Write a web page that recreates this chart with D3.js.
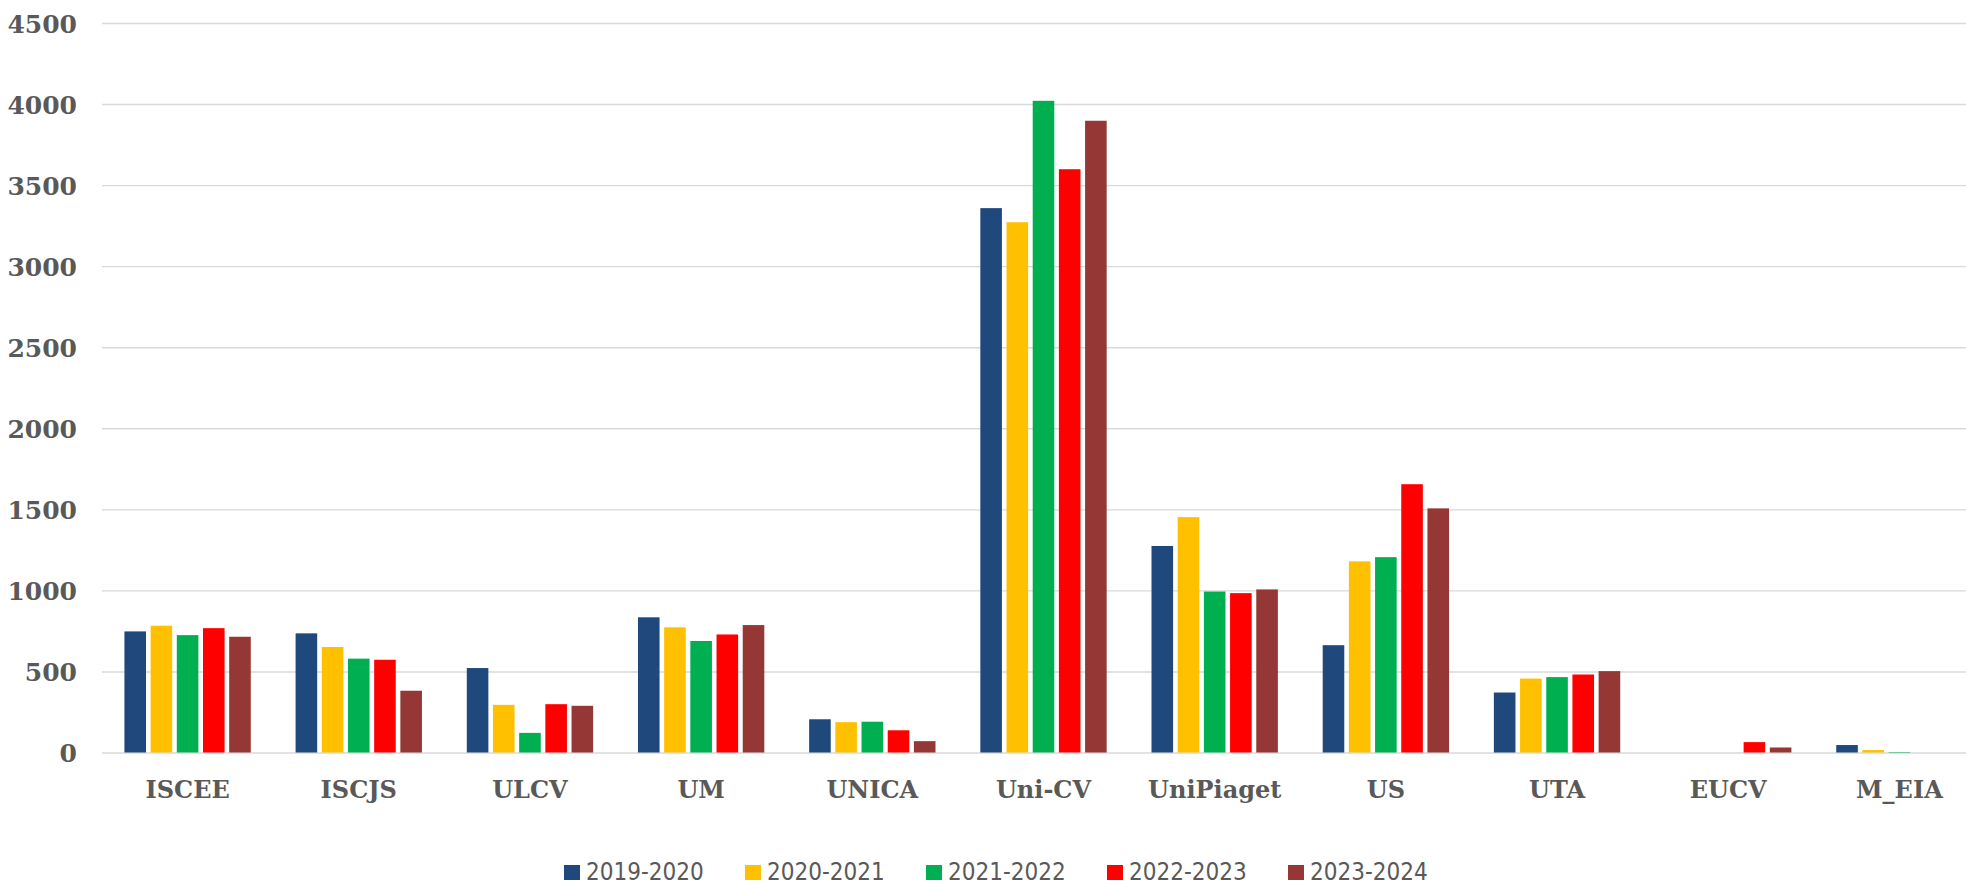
<!doctype html>
<html lang="en">
<head>
<meta charset="utf-8">
<title>Estudantes por instituição</title>
<style>
html, body {
	margin: 0;
	padding: 0;
	background: #fff;
	overflow: hidden;
}
svg {
	display: block;
}
.axis path {
	display: none;
}
.grid line {
	stroke: #d9d9d9;
	stroke-width: 1.4px;
}
.ylab text, .xlab text {
	font-family: "DejaVu Serif", serif;
	font-weight: bold;
	font-size: 25px;
	fill: #595959;
}
.xlab text {
	font-size: 24px;
}
.legend text {
	font-family: "DejaVu Sans Condensed", "DejaVu Sans", sans-serif;
	font-stretch: condensed;
	font-size: 24px;
	fill: #595959;
}
</style>
</head>
<body>
<div id="chart"></div>
<script src="https://cdnjs.cloudflare.com/ajax/libs/d3/7.8.5/d3.min.js"></script>
<script>
// data
var categories = ['ISCEE', 'ISCJS', 'ULCV', 'UM', 'UNICA', 'Uni-CV', 'UniPiaget', 'US', 'UTA', 'EUCV', 'M_EIA'];
var years = ['2019-2020', '2020-2021', '2021-2022', '2022-2023', '2023-2024'];
var colors = ['#1f497d', '#ffc000', '#00b050', '#ff0000', '#953735'];

var y2019 = [747, 735, 521, 834, 205, 3358, 1274, 662, 370, 0, 46];
var y2020 = [782, 651, 294, 772, 187, 3271, 1452, 1179, 456, 0, 15];
var y2021 = [724, 579, 121, 688, 190, 4020, 993, 1205, 465, 0, 3];
var y2022 = [767, 572, 298, 728, 137, 3598, 983, 1655, 481, 64, 0];
var y2023 = [714, 381, 288, 786, 70, 3897, 1006, 1506, 502, 31, 0];

var yTicks = [0, 500, 1000, 1500, 2000, 2500, 3000, 3500, 4000, 4500];

(function () {
	var series = [y2019, y2020, y2021, y2022, y2023];

	// layout
	var W = 1966, H = 885;
	var left = 102, right = 1985; // plot runs past the right edge, as in the picture
	var plotTop = 23, plotBottom = 752.5;

	var svg = d3.select('#chart').append('svg')
		.attr('width', W)
		.attr('height', H);

	var x0 = d3.scaleBand()
		.domain(categories)
		.range([left, right])
		.paddingInner(0.235)
		.paddingOuter(0.1175);

	var x1 = d3.scaleBand()
		.domain(years)
		.range([0, x0.bandwidth()]);

	var y = d3.scaleLinear()
		.domain([0, 4500])
		.range([plotBottom, plotTop]);

	var color = d3.scaleOrdinal().domain(years).range(colors);

	// grid + y labels
	svg.append('g')
		.attr('class', 'axis grid ylab')
		.attr('transform', 'translate(' + left + ',0)')
		.call(d3.axisLeft(y).tickValues(yTicks).tickFormat(d3.format('d'))
			.tickSize(-(right - left)).tickPadding(25))
		.selectAll('text')
		.attr('dy', '0.36em');

	// bars
	var rows = categories.map(function (c, i) {
		return { cat: c, vals: years.map(function (yr, j) { return { year: yr, v: series[j][i] }; }) };
	});

	var gap = 4.6;
	svg.append('g').selectAll('g')
		.data(rows)
		.join('g')
		.attr('transform', function (d) { return 'translate(' + x0(d.cat) + ',0)'; })
		.selectAll('rect')
		.data(function (d) { return d.vals; })
		.join('rect')
		.attr('x', function (d) { return x1(d.year) + gap / 2; })
		.attr('width', x1.bandwidth() - gap)
		.attr('y', function (d) { return y(d.v); })
		.attr('height', function (d) { return plotBottom - y(d.v); })
		.attr('fill', function (d) { return color(d.year); });

	// x labels
	svg.append('g')
		.attr('class', 'axis xlab')
		.attr('transform', 'translate(0,' + plotBottom + ')')
		.call(d3.axisBottom(x0).tickSize(0).tickPadding(28));

	// legend
	var lx = d3.scaleBand().domain(years).range([564, 564 + 5 * 181]);
	var leg = svg.append('g').attr('class', 'legend')
		.selectAll('g')
		.data(years)
		.join('g')
		.attr('transform', function (d) { return 'translate(' + lx(d) + ',0)'; });

	leg.append('rect')
		.attr('y', 865)
		.attr('width', 16)
		.attr('height', 15)
		.attr('fill', function (d) { return color(d); });

	leg.append('text')
		.attr('x', 22)
		.attr('y', 880)
		.text(function (d) { return d; });
})();
</script>
</body>
</html>
